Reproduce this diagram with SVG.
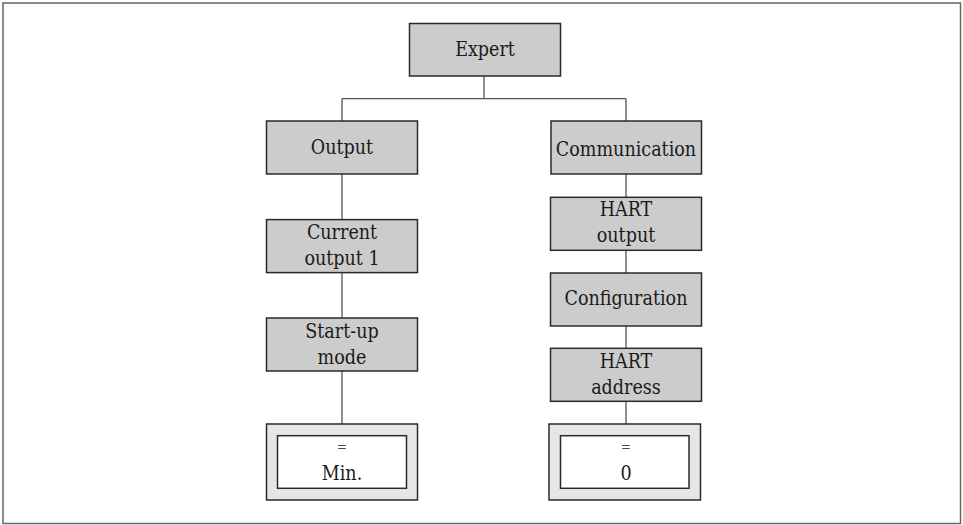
<svg xmlns="http://www.w3.org/2000/svg" width="963" height="525" viewBox="0 0 963 525">
<style>
.box{fill:#cccccc;stroke:#2a2a2a;stroke-width:1.5}
.outer{fill:#e6e6e6;stroke:#2a2a2a;stroke-width:1.5}
.inner{fill:#ffffff;stroke:#2a2a2a;stroke-width:1.5}
.t{font-family:"DejaVu Serif Condensed","DejaVu Serif",serif;font-stretch:condensed;font-size:19.5px;fill:#1a1a1a;text-anchor:middle}
.eq{font-family:"DejaVu Serif Condensed","DejaVu Serif",serif;font-stretch:condensed;font-size:13px;fill:#444;text-anchor:middle}
.c{stroke:#555;stroke-width:1.3;fill:none}
</style>
<rect width="963" height="525" fill="#ffffff"/>
<rect x="3" y="3" width="957.5" height="520.5" fill="none" stroke="#666" stroke-width="1.5"/>
<g id="connectors">
<path class="c" d="M484,76V98.7M342,98.7H626M342,98.7V121M626,98.7V121"/>
<path class="c" d="M342,174V219.6M342,272.5V318M342,371V424"/>
<path class="c" d="M626,174V197.3M626,250.3V273M626,326V348.3M626,401.3V424"/>
</g>
<g id="expert"><rect class="box" x="409.5" y="23.5" width="151" height="52.5"/><text class="t" x="485" y="56">Expert</text></g>
<g id="output"><rect class="box" x="266.5" y="121" width="151" height="53"/><text class="t" x="342" y="154">Output</text></g>
<g id="communication"><rect class="box" x="551" y="121" width="150.5" height="53"/><text class="t" x="626" y="155.5">Communication</text></g>
<g id="current-output"><rect class="box" x="266.5" y="219.6" width="151" height="53"/><text class="t" x="342" y="238.5">Current</text><text class="t" x="342" y="264.5">output 1</text></g>
<g id="startup-mode"><rect class="box" x="266.5" y="318" width="151" height="53"/><text class="t" x="342" y="338">Start-up</text><text class="t" x="342" y="364">mode</text></g>
<g id="hart-output"><rect class="box" x="550.5" y="197.3" width="151" height="53"/><text class="t" x="626" y="216">HART</text><text class="t" x="626" y="241.5">output</text></g>
<g id="configuration"><rect class="box" x="550.5" y="273" width="151" height="53"/><text class="t" x="626" y="305">Configuration</text></g>
<g id="hart-address"><rect class="box" x="550.5" y="348.3" width="151" height="53"/><text class="t" x="626" y="368">HART</text><text class="t" x="626" y="394">address</text></g>
<g id="value-min"><rect class="outer" x="266.5" y="424" width="151" height="76"/><rect class="inner" x="277.5" y="435.7" width="129" height="52.6"/><text class="eq" x="342" y="451">=</text><text class="t" x="342" y="480">Min.</text></g>
<g id="value-0"><rect class="outer" x="549" y="424" width="151.5" height="76"/><rect class="inner" x="560.5" y="435.7" width="128.5" height="52.6"/><text class="eq" x="626" y="451">=</text><text class="t" x="626" y="480">0</text></g>
</svg>
